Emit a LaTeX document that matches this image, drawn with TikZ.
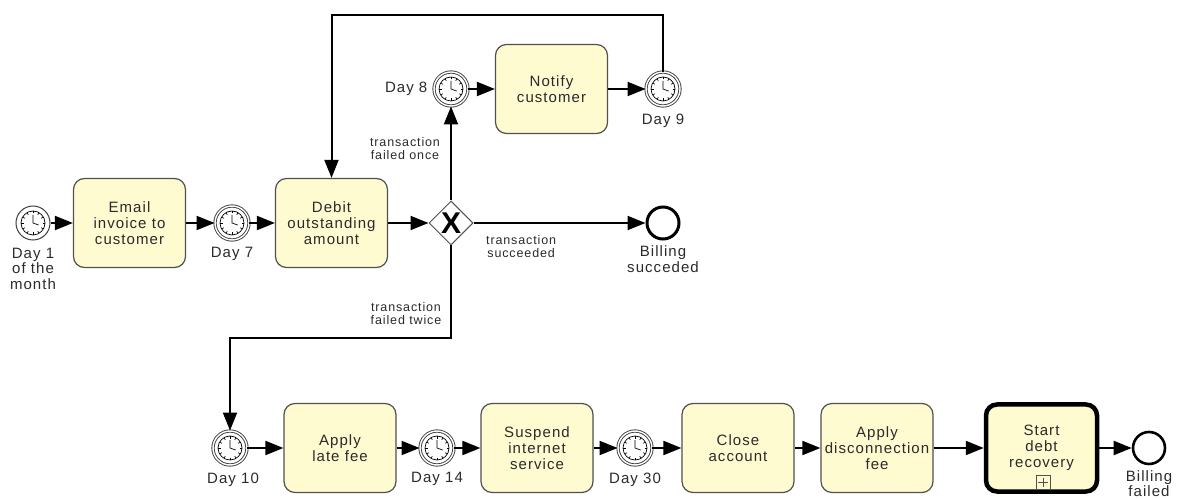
\documentclass[tikz,border=0pt]{standalone}
\usepackage{fontspec}
\setmainfont{Liberation Sans}[LetterSpace=7]
\usepackage{xcolor}
\usetikzlibrary{arrows.meta,shapes.geometric,positioning}
\definecolor{task-fill}{HTML}{FFFBD0}
\definecolor{task-line}{HTML}{505050}
\definecolor{label-text}{HTML}{2A2A2A}
\tikzset{
    x=1pt, y=1pt,
    task/.style = {draw=task-line, fill=task-fill, line width=1.2pt, rectangle, rounded corners=11pt, minimum width=112pt, minimum height=89pt, inner sep=0pt, align=center, text=label-text, font=\fontsize{15}{16}\selectfont},
    call-task/.style = {task, draw=black, line width=4.5pt, minimum width=111pt, minimum height=87pt},
    gateway/.style = {draw=task-line, fill=white, line width=1pt, diamond, aspect=1, inner sep=0pt, minimum size=44pt, font=\fontsize{30}{30}\selectfont\bfseries},
    start-timer/.style = {draw=black!75, fill=white, line width=1pt, circle, inner sep=0pt, minimum size=34pt},
    mid-timer/.style = {start-timer, double, double distance=1.4pt, line width=.9pt},
    end-event/.style = {draw=black, fill=white, line width=3pt, circle, inner sep=0pt, minimum size=32pt},
    event-label/.style = {align=center, text=label-text, inner sep=0pt, font=\fontsize{15}{15.5}\selectfont},
    flow-label/.style = {align=center, text=label-text, inner sep=0pt, font=\fontsize{12.5}{13}\selectfont},
    flow/.style = {draw=black, line width=2pt, -{Triangle[length=18pt,width=14pt]}},
    clock/.pic = {
        \draw[draw=black, line width=.7pt] (0,0) circle (12pt);
        \foreach \a in {0,30,...,330} \draw[line width=.6pt] (\a:9.5pt) -- (\a:12pt);
        \draw[line width=.7pt] (90:8pt) -- (0,0) -- (-20:6pt);
    },
}
\begin{document}
\begin{tikzpicture}
\useasboundingbox (0,0) rectangle (1180,498);

% top part
\node[start-timer] (day-1) at (33,275) {};
\node[task] (email) at (129.5,275) {Email\\invoice to\\customer};
\node[mid-timer] (day-7) at (232,275) {};
\node[task] (debit) at (331.5,275) {Debit\\outstanding\\amount};
\node[gateway] (paid) at (451,275) {X};
\node[end-event] (succeeded) at (663,275) {};
\node[mid-timer] (day-8) at (451,409) {};
\node[task] (notify) at (551.5,409) {Notify\\customer};
\node[mid-timer] (day-9) at (663,409) {};

% bottom part
\node[mid-timer] (day-10) at (230,50) {};
\node[task] (late-fee) at (340,50) {Apply\\late fee};
\node[mid-timer] (day-14) at (437,50) {};
\node[task] (suspend) at (537,50) {Suspend\\internet\\service};
\node[mid-timer] (day-30) at (635,50) {};
\node[task] (close) at (738,50) {Close\\account};
\node[task] (disconnect) at (877,50) {Apply\\disconnection\\fee};
\node[call-task] (recovery) at (1041.5,50) {Start\\debt\\recovery};
\node[end-event, line width=2.6pt] (failed) at (1149,50) {};

% clock faces
\foreach \t in {day-1,day-7,day-8,day-9,day-10,day-14,day-30}
    \pic at (\t) {clock};

% collapsed marker
\node[draw=task-line, fill=task-fill, line width=.8pt, minimum size=14pt, inner sep=0pt] (marker) at (1043,15.5) {};
\draw[task-line, line width=.8pt, shorten >=2.5pt, shorten <=2.5pt] (marker.west) -- (marker.east);
\draw[task-line, line width=.8pt, shorten >=2.5pt, shorten <=2.5pt] (marker.north) -- (marker.south);

% event labels
\node[event-label, below=7pt] (day-1-text) at (day-1.south) {Day 1\\of the\\month};
\node[event-label, below=7pt] (day-7-text) at (day-7.south) {Day 7};
\node[event-label, left=6pt] (day-8-text) at (day-8.west) {Day 8};
\node[event-label, below=7pt] (day-9-text) at (day-9.south) {Day 9};
\node[event-label, below=5pt] (succeeded-text) at (succeeded.south) {Billing\\succeded};
\node[event-label, below=7pt] (day-10-text) at ([xshift=3pt]day-10.south) {Day 10};
\node[event-label, below=7pt] (day-14-text) at (day-14.south) {Day 14};
\node[event-label, below=7pt] (day-30-text) at (day-30.south) {Day 30};
\node[event-label, below=5pt] (failed-text) at (failed.south) {Billing\\failed};

% flow labels
\node[flow-label] (once-text) at (405,349.5) {transaction\\failed once};
\node[flow-label, anchor=west] (ok-text) at (486,251.5) {transaction\\succeeded};
\node[flow-label] (twice-text) at (406,184.5) {transaction\\failed twice};

% flows
\draw[flow] (day-1) -- (email);
\draw[flow] (email) -- (day-7);
\draw[flow] (day-7) -- (debit);
\draw[flow] (debit) -- (paid);
\draw[flow] (paid) -- (succeeded);
\draw[flow] (paid) -- (day-8);
\draw[flow] (day-8) -- (notify);
\draw[flow] (notify) -- (day-9);
\draw[flow] (day-9.north) |- (331.5,483) -- (debit.north);
\draw[flow] (paid.south) |- (230,160) -- (day-10.north);
\draw[flow] (day-10) -- (late-fee);
\draw[flow] (late-fee) -- (day-14);
\draw[flow] (day-14) -- (suspend);
\draw[flow] (suspend) -- (day-30);
\draw[flow] (day-30) -- (close);
\draw[flow] (close) -- (disconnect);
\draw[flow] (disconnect) -- (recovery);
\draw[flow] (recovery) -- (failed);
\end{tikzpicture}
\end{document}
